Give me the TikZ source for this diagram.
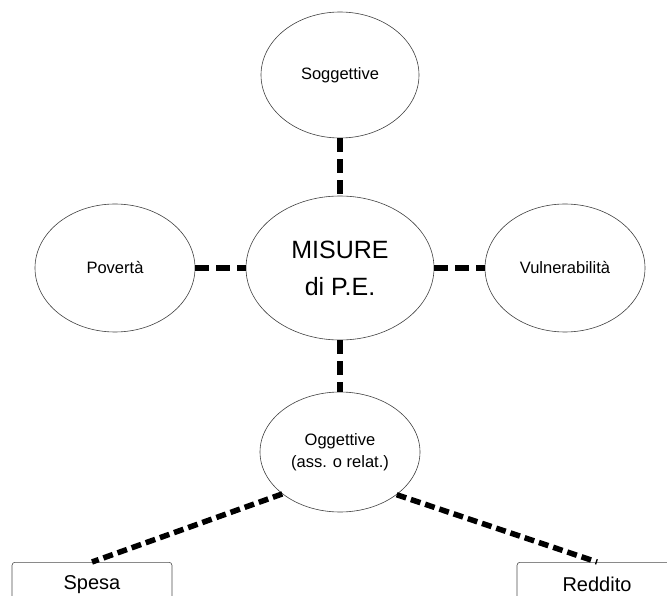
\documentclass[tikz,border=0pt]{standalone}
\usepackage{fontspec}
\setmainfont{Liberation Sans}
\usepackage{tikz}
\usetikzlibrary{shapes.geometric}
\tikzset{
  bubble/.style  ={ellipse,draw=black!75,line width=0.6pt,inner sep=0pt,
                   minimum width=160pt,minimum height=128pt,align=center,
                   font=\fontsize{16.5}{22}\selectfont},
  bigbubble/.style ={bubble,minimum width=188pt,minimum height=144pt,
                   font=\fontsize{25}{37}\selectfont},
  leaf/.style    ={rectangle,rounded corners=3pt,draw=black!70,line width=0.6pt,
                   minimum width=160pt,minimum height=44pt,anchor=north,
                   font=\fontsize{20}{24}\selectfont},
  link/.style    ={draw=black,line width=5.5pt,dash pattern=on 14pt off 7pt},
  linkdiag/.style={link,dash pattern=on 10pt off 5pt},
}

\begin{document}
\begin{tikzpicture}[x=1pt,y=-1pt]
\useasboundingbox (0,0) rectangle (667,596);
\clip (0,0) rectangle (667,596);

% Nodes
\node[bigbubble] (mis) at (340,268) {MISURE\\di P.E.};
\node[bubble,minimum width=158pt,minimum height=126pt] (sogg) at (340,75) {Soggettive};
\node[bubble] (pov) at (115,268) {Povertà};
\node[bubble] (vul) at (565,268) {Vulnerabilità};
\node[bubble,minimum height=120pt] (ogg) at (340,452) {Oggettive\\(ass. o relat.)};
\node[leaf] (spesa) at (92,562) {Spesa};
\node[leaf] (redd) at (597,562) {Reddito};

% Edges
\draw[link] (sogg) -- (mis);
\draw[link] (pov) -- (mis);
\draw[link] (mis) -- (vul);
\draw[link] (mis) -- (ogg);
\draw[linkdiag] (ogg.216) -- (spesa.north);
\draw[linkdiag] (ogg.323) -- (redd.north);

\end{tikzpicture}
\end{document}
